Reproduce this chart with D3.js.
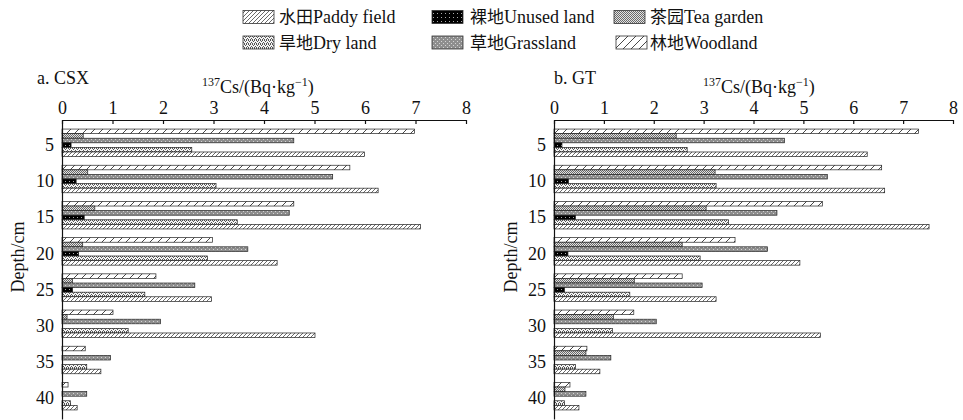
<!DOCTYPE html>
<html>
<head>
<meta charset="utf-8">
<script src="https://cdn.jsdelivr.net/npm/d3@7"></script>
<style>
  html, body { margin: 0; padding: 0; background: #fff; }
  svg { display: block; }
  text { font-family: "Liberation Serif", "Times New Roman", "Noto Sans CJK SC", serif; fill: #111; }
</style>
</head>
<body>
<svg id="chart" width="963" height="420"></svg>
<script>
// Soil depth groups (cm) and land-use series, top bar to bottom bar in each group
const depths = ["5", "10", "15", "20", "25", "30", "35", "40"];
const xTicks = [0, 1, 2, 3, 4, 5, 6, 7, 8];

// a. CSX — 137Cs activity (Bq/kg)
const csxWoodland  = [6.98, 5.70, 4.59, 2.98, 1.86, 1.01, 0.46, 0.12];
const csxTea       = [0.42, 0.51, 0.65, 0.41, 0.21, 0.10, 0, 0];
const csxGrassland = [4.59, 5.36, 4.50, 3.68, 2.63, 1.95, 0.96, 0.49];
const csxUnused    = [0.18, 0.28, 0.44, 0.33, 0.21, 0, 0, 0];
const csxDry       = [2.57, 3.05, 3.47, 2.88, 1.64, 1.31, 0.49, 0.17];
const csxPaddy     = [5.99, 6.26, 7.10, 4.26, 2.96, 5.01, 0.77, 0.30];

// b. GT — 137Cs activity (Bq/kg)
const gtWoodland  = [7.31, 6.57, 5.38, 3.63, 2.57, 1.60, 0.66, 0.32];
const gtTea       = [2.45, 3.23, 3.05, 2.57, 1.61, 1.19, 0.64, 0.22];
const gtGrassland = [4.62, 5.48, 4.47, 4.28, 2.97, 2.05, 1.14, 0.64];
const gtUnused    = [0.16, 0.29, 0.43, 0.28, 0.21, 0, 0, 0];
const gtDry       = [2.67, 3.25, 3.50, 2.93, 1.52, 1.17, 0.43, 0.21];
const gtPaddy     = [6.28, 6.63, 7.52, 4.93, 3.25, 5.34, 0.92, 0.50];

const seriesKeys = ["woodland", "tea", "grassland", "unused", "dry", "paddy"];
const legendItems = [
  { key: "paddy",     cn: "水田", en: "Paddy field" },
  { key: "dry",       cn: "旱地", en: "Dry land" },
  { key: "unused",    cn: "裸地", en: "Unused land" },
  { key: "grassland", cn: "草地", en: "Grassland" },
  { key: "tea",       cn: "茶园", en: "Tea garden" },
  { key: "woodland",  cn: "林地", en: "Woodland" }
];

const panels = [
  { title: "a. CSX", values: { woodland: csxWoodland, tea: csxTea, grassland: csxGrassland, unused: csxUnused, dry: csxDry, paddy: csxPaddy },
    x0: 62, x1: 466, titleX: 37, unitX: 202, depthX: 18 },
  { title: "b. GT", values: { woodland: gtWoodland, tea: gtTea, grassland: gtGrassland, unused: gtUnused, dry: gtDry, paddy: gtPaddy },
    x0: 554, x1: 953, titleX: 554, unitX: 703, depthX: 511 }
];

const svg = d3.select("#chart");
const defs = svg.append("defs");

// Fill patterns for each land use
function pat(id, w, h, build) {
  const p = defs.append("pattern").attr("id", id)
    .attr("patternUnits", "userSpaceOnUse").attr("width", w).attr("height", h);
  build(p);
}
function dot(p, a, b, c) {
  p.append("rect").attr("x", a).attr("y", b).attr("width", 1).attr("height", 1).attr("fill", c);
}
pat("p-woodland", 8, 8, p => {
  p.append("rect").attr("width", 8).attr("height", 8).attr("fill", "#fff");
  p.append("path").attr("d", "M0,8L8,0M-2,2L2,-2M6,10L10,6").attr("stroke", "#333").attr("stroke-width", 0.9);
});
pat("p-paddy", 4, 4, p => {
  p.append("rect").attr("width", 4).attr("height", 4).attr("fill", "#fff");
  p.append("path").attr("d", "M0,4L4,0M-1,1L1,-1M3,5L5,3").attr("stroke", "#444").attr("stroke-width", 0.8);
});
pat("p-tea", 2, 2, p => {
  p.append("rect").attr("width", 2).attr("height", 2).attr("fill", "#e2e2e2");
  dot(p, 0, 0, "#6a6a6a");
  dot(p, 1, 1, "#6a6a6a");
});
pat("p-grassland", 4, 4, p => {
  p.append("rect").attr("width", 4).attr("height", 4).attr("fill", "#8e8e8e");
  dot(p, 1, 1, "#d4d4d4");
  dot(p, 3, 3, "#d4d4d4");
});
pat("p-unused", 4, 4, p => {
  p.append("rect").attr("width", 4).attr("height", 4).attr("fill", "#000");
  dot(p, 1, 1, "#aaa");
});
pat("p-dry", 4, 4, p => {
  p.append("rect").attr("width", 4).attr("height", 4).attr("fill", "#f4f4f4");
  [[0,0],[2,0],[1,1],[3,2],[0,3],[2,3]].forEach(([a,b]) => dot(p, a, b, "#555"));
});

// Legend: three columns, two rows
const legCols = [243, 432, 614];
const legText = [279, 470, 650];
const legRows = [10.5, 36];
const legend = svg.append("g");
legendItems.forEach((d, i) => {
  const col = Math.floor(i / 2), row = i % 2;
  const sx = legCols[col] + (col === 2 && row === 1 ? 2 : 0);
  legend.append("rect")
    .attr("x", sx).attr("y", legRows[row])
    .attr("width", 31).attr("height", 13)
    .attr("fill", `url(#p-${d.key})`).attr("stroke", "#333").attr("stroke-width", 0.8);
  const t = legend.append("text")
    .attr("x", legText[col]).attr("y", legRows[row] + 12.5)
    .attr("font-size", 17);
  t.append("tspan").style("font-family", '"Noto Sans CJK SC", sans-serif').text(d.cn);
  t.append("tspan").style("font-family", '"Liberation Serif", serif').attr("font-size", 18).text(d.en);
});

// Panels
panels.forEach(pn => {
  const g = svg.append("g");
  const x = d3.scaleLinear().domain([0, 8]).range([pn.x0, pn.x1]);
  const y = d3.scaleBand().domain(depths).range([120, 419]).paddingInner(0.24).paddingOuter(0.25);
  const yi = d3.scaleBand().domain(seriesKeys).range([0, y.bandwidth()]);

  // bars
  depths.forEach((dep, di) => {
    seriesKeys.forEach(k => {
      const v = pn.values[k][di];
      if (!(v > 0)) return;
      g.append("rect")
        .attr("x", x(0)).attr("y", y(dep) + yi(k))
        .attr("width", x(v) - x(0)).attr("height", yi.bandwidth())
        .attr("fill", `url(#p-${k})`)
        .attr("stroke", "#222").attr("stroke-width", 0.7);
    });
  });

  // top value axis with inward ticks
  const xa = g.append("g").attr("transform", "translate(0,120)")
    .call(d3.axisTop(x).tickValues(xTicks).tickFormat(d3.format("d")).tickSize(-4).tickSizeOuter(0).tickPadding(6));
  xa.select(".domain").attr("stroke", "#111").attr("stroke-width", 1.2);
  xa.selectAll(".tick line").attr("stroke", "#111").attr("stroke-width", 1.2);
  xa.selectAll("text").attr("font-size", 18).attr("font-family", "Liberation Serif").attr("fill", "#111");

  // depth axis
  const ya = g.append("g").attr("transform", `translate(${pn.x0},0)`)
    .call(d3.axisLeft(y).tickSize(0).tickSizeOuter(0).tickPadding(8));
  ya.select(".domain").attr("stroke", "#111").attr("stroke-width", 1.2);
  ya.selectAll("text").attr("font-size", 18).attr("font-family", "Liberation Serif").attr("fill", "#111").attr("dy", "0.45em");

  // titles
  g.append("text").attr("x", pn.titleX).attr("y", 84).attr("font-size", 18).text(pn.title);
  const t = g.append("text").attr("x", pn.unitX).attr("y", 93).attr("font-size", 18);
  t.append("tspan").attr("font-size", 12).attr("dy", -7).text("137");
  t.append("tspan").attr("dy", 7).text("Cs/(Bq·kg");
  t.append("tspan").attr("font-size", 12).attr("dy", -7).text("−1");
  t.append("tspan").attr("dy", 7).text(")");

  g.append("text")
    .attr("transform", `translate(${pn.depthX + 6},257) rotate(-90)`)
    .attr("text-anchor", "middle").attr("font-size", 18).text("Depth/cm");
});
</script>
</body>
</html>
